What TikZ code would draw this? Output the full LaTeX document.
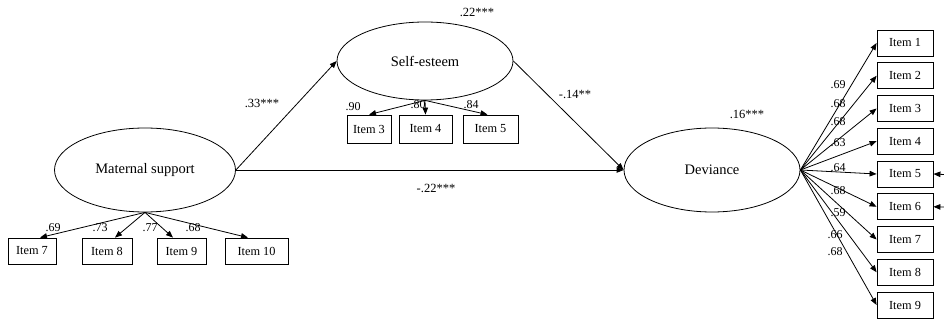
\documentclass[tikz,border=0pt]{standalone}
\usepackage{fontspec}
\setmainfont{Liberation Serif}
\usetikzlibrary{shapes.geometric,arrows.meta}
\begin{document}
\begin{tikzpicture}[x=1pt,y=-1pt,
  latent/.style={draw,ellipse,line width=0.8pt,inner sep=0pt,font=\fontsize{14.5}{16}\selectfont},
  itembox/.style={draw,rectangle,line width=0.8pt,inner sep=0pt,minimum height=26pt,font=\fontsize{12.3}{14}\selectfont},
  path/.style={line width=0.8pt,-{Triangle[length=7pt,width=5.5pt]}},
  coef/.style={inner sep=0pt,font=\fontsize{12.5}{14}\selectfont},
  load/.style={inner sep=0pt,font=\fontsize{12}{14}\selectfont}]
\useasboundingbox (0,0) rectangle (944,320);
% latent variables
\node[latent,minimum width=181pt,minimum height=84pt] (ms) at (145,170) {Maternal support};
\node[latent,minimum width=176pt,minimum height=78pt] (se) at (425,61) {Self-esteem};
\node[latent,minimum width=176pt,minimum height=84pt] (dv) at (712,170) {Deviance};
% maternal support items
\node[itembox,minimum width=48pt] (m7) at (32,251) {Item 7};
\node[itembox,minimum width=50pt] (m8) at (107,251) {Item 8};
\node[itembox,minimum width=49pt] (m9) at (181.5,251) {Item 9};
\node[itembox,minimum width=63pt] (m10) at (256.5,251) {Item 10};
% self-esteem items
\node[itembox,minimum width=44pt,minimum height=28pt] (s3) at (369,129) {Item 3};
\node[itembox,minimum width=53pt,minimum height=28pt] (s4) at (425.5,129) {Item 4};
\node[itembox,minimum width=55pt,minimum height=28pt] (s5) at (490.5,129) {Item 5};
% deviance items
\foreach \i in {1,...,9}{
  \node[itembox,minimum width=56pt] (d\i) at (905,{43+32.75*(\i-1)}) {Item \i};
}
% structural paths
\draw[path] (ms.east) -- (se.west);
\draw[path] (ms.east) -- (dv.west);
\draw[path] (se.east) -- (dv.west);
% measurement paths
\draw[path] (ms.south) -- ([xshift=8pt]m7.north);
\draw[path] (ms.south) -- ([xshift=8pt]m8.north);
\draw[path] (ms.south) -- ([xshift=-8.5pt]m9.north);
\draw[path] (ms.south) -- ([xshift=-8.5pt]m10.north);
\draw[path] (se.south) -- (s3.north);
\draw[path] (se.south) -- (s4.north);
\draw[path] (se.south) -- ([xshift=-3pt]s5.north);
\foreach \i in {1,...,9}{
  \draw[path] (dv.east) -- (d\i.west);
}
% error arrows
\coordinate (e5) at (944,174.5);
\coordinate (e6) at (944,207);
\draw[path] (e5) -- (d5.east);
\draw[path] (e6) -- (d6.east);
% coefficient labels
\node[coef] (c1) at (262,103) {.33***};
\node[coef] (c2) at (436,188) {-.22***};
\node[coef] (c3) at (575,94) {-.14**};
\node[coef] (c4) at (477,12) {.22***};
\node[coef] (c5) at (747,114) {.16***};
% loadings
\node[load] (l7) at (53,228) {.69};
\node[load] (l8) at (100,228) {.73};
\node[load] (l9) at (150,228) {.77};
\node[load] (l10) at (193,228) {.68};
\node[load] (l3) at (353,107) {.90};
\node[load] (l4) at (418,105) {.80};
\node[load] (l5) at (471,105) {.84};
\node[load] (ld1) at (838,85) {.69};
\node[load] (ld2) at (838,104) {.68};
\node[load] (ld3) at (838,122) {.68};
\node[load] (ld4) at (838,143) {.63};
\node[load] (ld5) at (838,168) {.64};
\node[load] (ld6) at (838,191) {.68};
\node[load] (ld7) at (838,213) {.59};
\node[load] (ld8) at (835,235) {.66};
\node[load] (ld9) at (835,252) {.68};
\end{tikzpicture}
\end{document}
